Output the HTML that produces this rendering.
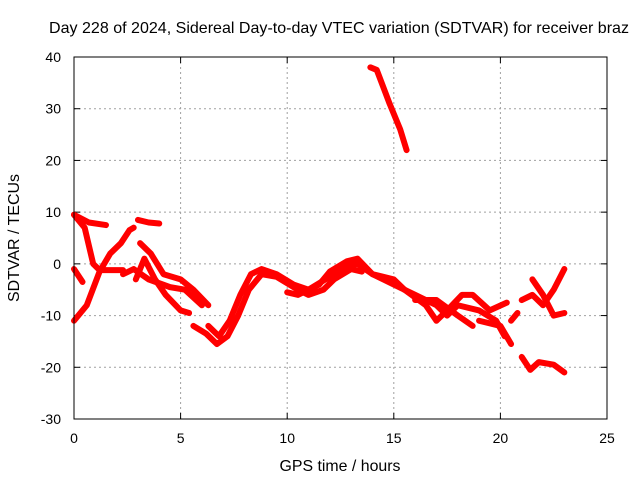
<!DOCTYPE html>
<html><head><meta charset="utf-8"><style>
body{margin:0;background:#fff}
svg{display:block;font-family:"Liberation Sans",sans-serif}
</style></head><body>
<svg id="c" width="640" height="480">
<text x="339" y="33" font-size="16" textLength="580" lengthAdjust="spacingAndGlyphs" text-anchor="middle">Day 228 of 2024, Sidereal Day-to-day VTEC variation (SDTVAR) for receiver braz</text>
<text x="340" y="471" font-size="16" textLength="121" lengthAdjust="spacingAndGlyphs" text-anchor="middle">GPS time / hours</text>
<text transform="translate(19,238) rotate(-90)" font-size="16" textLength="128" lengthAdjust="spacingAndGlyphs" text-anchor="middle">SDTVAR / TECUs</text>
<g id="grid"></g>
<g id="ticks"></g>
<g id="series"></g>
<rect x="74" y="57" width="533" height="362" fill="none" stroke="#000" stroke-width="1"/>
</svg>
<script>
const xTicks=[0,5,10,15,20,25];
const yTicks=[-30,-20,-10,0,10,20,30,40];
const trackA=[[0,-11],[0.6,-8],[1.2,-1.5],[1.7,2],[2.2,4],[2.6,6.5],[2.8,7]];
const trackB=[[0,9.5],[0.5,7],[0.9,0],[1.2,-1.2],[2.3,-1.2]];
const trackB2=[[0,9.5],[0.7,8],[1.5,7.5]];
const trackC=[[0,-1],[0.4,-3.5]];
const trackD=[[3,8.5],[3.5,8],[4,7.8]];
const trackE=[[3.1,4],[3.6,2],[4.2,-2],[5,-3],[5.6,-5],[6.3,-8]];
const trackF=[[2.9,-3],[3.3,1],[3.8,-3],[4.3,-6],[5,-9],[5.4,-9.5]];
const trackG=[[2.3,-2],[2.8,-1],[3.5,-3],[4.5,-4.5],[5.2,-5],[6,-8]];
const trackH=[[5.6,-12],[6.2,-13.5],[6.7,-15.5],[7.2,-14],[7.7,-10],[8.2,-5],[8.8,-2],[9.5,-2.5],[10.5,-5],[11,-6],[11.7,-5],[12.2,-3],[13,-1],[13.5,-1.5]];
const trackI=[[6.3,-12],[6.8,-14],[7.3,-11],[7.8,-6],[8.3,-2],[8.8,-1],[9.5,-2],[10.3,-4],[11,-5],[11.8,-3],[12.5,-1],[13.3,0],[14,-2],[15,-4],[16,-6],[17,-8],[17.5,-10],[18,-8],[19,-9],[19.8,-11],[20.2,-14]];
const trackJ=[[10,-5.5],[10.5,-6],[11.5,-4],[12,-1.5],[12.8,0.5],[13.3,1],[14,-2],[15,-3],[15.5,-5]];
const trackK=[[13.9,38],[14.2,37.5],[14.8,31],[15.3,26],[15.6,22]];
const trackL=[[15.5,-5],[16.5,-8],[17,-11],[17.5,-9],[18.2,-6],[18.7,-6],[19.5,-9],[20.3,-7.5]];
const trackM=[[16,-7],[17,-7],[18,-10],[18.7,-12]];
const trackN=[[19,-11],[20,-12],[20.5,-15.5]];
const trackO=[[20.5,-11],[20.8,-9.5]];
const trackP=[[21,-18],[21.4,-20.5],[21.8,-19],[22.5,-19.5],[23,-21]];
const trackQ=[[21.5,-3],[22,-6],[22.5,-10],[23,-9.5]];
const trackR=[[21,-7],[21.5,-6],[22,-8],[22.5,-5],[23,-1]];
const tracks=[trackA,trackB,trackB2,trackC,trackD,trackE,trackF,trackG,trackH,trackI,trackJ,trackK,trackL,trackM,trackN,trackO,trackP,trackQ,trackR];
const X0=74,X1=607,Y0=419,Y1=57;
const sx=t=>X0+(t-0)/25*(X1-X0);
const sy=v=>Y0-(v+30)/70*(Y0-Y1);
const NS='http://www.w3.org/2000/svg';
const grid=document.getElementById('grid'),ticks=document.getElementById('ticks'),ser=document.getElementById('series');
function mk(tag,attrs,parent){const e=document.createElementNS(NS,tag);for(const k in attrs)e.setAttribute(k,attrs[k]);parent.appendChild(e);return e;}
xTicks.forEach(t=>{const x=sx(t);
 if(t>0&&t<25){const l=mk('line',{x1:x,x2:x,y1:Y1,y2:Y0,stroke:'#a0a0a0','stroke-dasharray':'2,3'},grid);
 
 }
 mk('line',{x1:x,x2:x,y1:Y0,y2:Y0-6,stroke:'#000'},ticks);
 mk('line',{x1:x,x2:x,y1:Y1,y2:Y1+6,stroke:'#000'},ticks);
 const tx=mk('text',{x:x,y:Y0+24,'font-size':14,'text-anchor':'middle'},ticks);tx.textContent=t;
 
 
});
yTicks.forEach(v=>{const y=sy(v);
 if(v>-30&&v<40){const l=mk('line',{x1:X0,x2:X1,y1:y,y2:y,stroke:'#a0a0a0','stroke-dasharray':'2,3'},grid);
 
 }
 mk('line',{x1:X0,x2:X0+6,y1:y,y2:y,stroke:'#000'},ticks);
 mk('line',{x1:X1,x2:X1-6,y1:y,y2:y,stroke:'#000'},ticks);
 const tx=mk('text',{x:X0-13,y:y+5,'font-size':14,'text-anchor':'end'},ticks);tx.textContent=v;
 
 
});
tracks.forEach(tr=>{
 const p=mk('polyline',{points:tr.map(d=>sx(d[0])+','+sy(d[1])).join(' '),fill:'none',stroke:'#f00','stroke-width':6,'stroke-linejoin':'round','stroke-linecap':'round'},ser);
 
 
});
</script>
</body></html>
